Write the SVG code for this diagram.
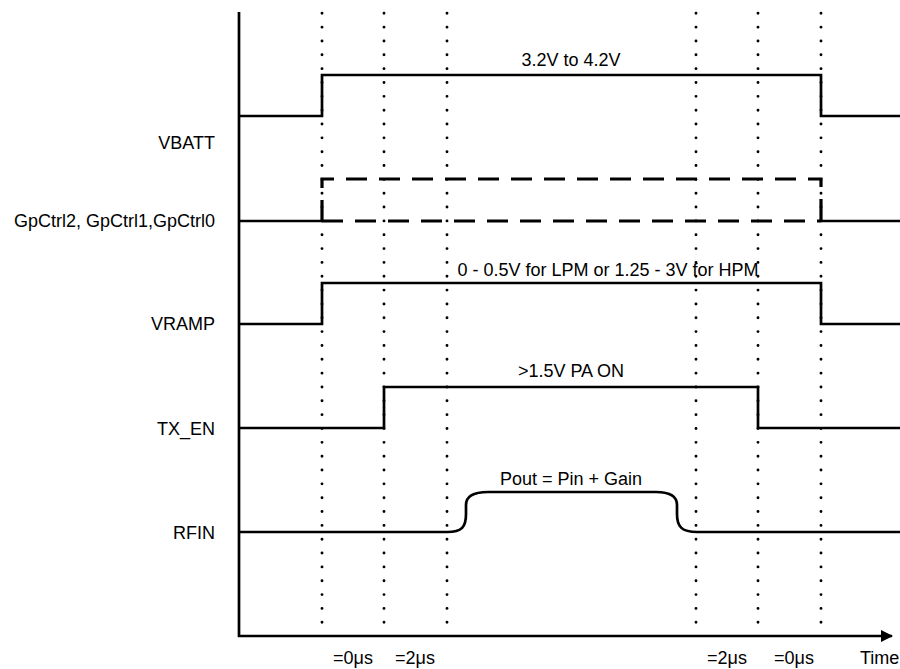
<svg xmlns="http://www.w3.org/2000/svg" width="900" height="669" viewBox="0 0 900 669">
<defs>
<style>
.t{font-family:"Liberation Sans",Arial,sans-serif;font-size:18px;fill:#000}
.lbl{text-anchor:end}
.mid{text-anchor:middle}
.sig{fill:none;stroke:#000;stroke-width:2.7;stroke-linejoin:miter}
.dash{fill:none;stroke:#000;stroke-width:3.2;stroke-dasharray:21 12}
.dot{stroke:#000;stroke-width:2.9;stroke-linecap:round;stroke-dasharray:0 13.84}
.axis{fill:none;stroke:#000;stroke-width:2.7}
</style>
<marker id="arr" viewBox="0 0 12 12" refX="11" refY="6" markerWidth="12" markerHeight="12" markerUnits="userSpaceOnUse" orient="auto">
<path d="M0,0 L12,6 L0,12 Z" fill="#000"/>
</marker>
</defs>
<rect width="900" height="669" fill="#fff"/>
<g id="grid">
<line class="dot" x1="322" y1="13.3" x2="322" y2="636"/>
<line class="dot" x1="384" y1="13.3" x2="384" y2="636"/>
<line class="dot" x1="447" y1="13.3" x2="447" y2="636"/>
<line class="dot" x1="696" y1="13.3" x2="696" y2="636"/>
<line class="dot" x1="758" y1="13.3" x2="758" y2="636"/>
<line class="dot" x1="821" y1="13.3" x2="821" y2="636"/>
</g>
<g id="axes">
<path class="axis" d="M239,12 V636 H892" marker-end="url(#arr)"/>
</g>
<g id="vbatt">
<text class="t lbl" x="215" y="149">VBATT</text>
<path class="sig" d="M239,116 H322 V75 H821 V116 H900"/>
<text class="t mid" x="571" y="66">3.2V to 4.2V</text>
</g>
<g id="gpctrl">
<text class="t lbl" x="215" y="227">GpCtrl2, GpCtrl1,GpCtrl0</text>
<path class="sig" d="M239,221 H322"/>
<path class="sig" d="M821,221 H900"/>
<path class="dash" d="M322,221 V179 H821 V221"/>
<path class="dash" d="M322,221 H821"/>
</g>
<g id="vramp">
<text class="t lbl" x="215" y="330">VRAMP</text>
<path class="sig" d="M239,324 H322 V283 H821 V324 H900"/>
<text class="t mid" x="608" y="276">0 - 0.5V for LPM or 1.25 - 3V for HPM</text>
</g>
<g id="txen">
<text class="t lbl" x="215" y="435">TX_EN</text>
<path class="sig" d="M239,428 H384 V387 H758 V428 H900"/>
<text class="t mid" x="571" y="377">&gt;1.5V PA ON</text>
</g>
<g id="rfin">
<text class="t lbl" x="215" y="539">RFIN</text>
<path class="sig" d="M239,532 H447 C462,532 466,527 466,514 L466,505 C466,496 474,492 488,492 H656 C670,492 677,496 677,505 L677,514 C677,527 682,532 697,532 H900"/>
<text class="t mid" x="571" y="485">Pout = Pin + Gain</text>
</g>
<g id="timelabels">
<text class="t mid" x="353" y="664">=0μs</text>
<text class="t mid" x="415" y="664">=2μs</text>
<text class="t mid" x="727" y="664">=2μs</text>
<text class="t mid" x="794" y="664">=0μs</text>
<text class="t" x="860" y="664">Time</text>
</g>
</svg>
